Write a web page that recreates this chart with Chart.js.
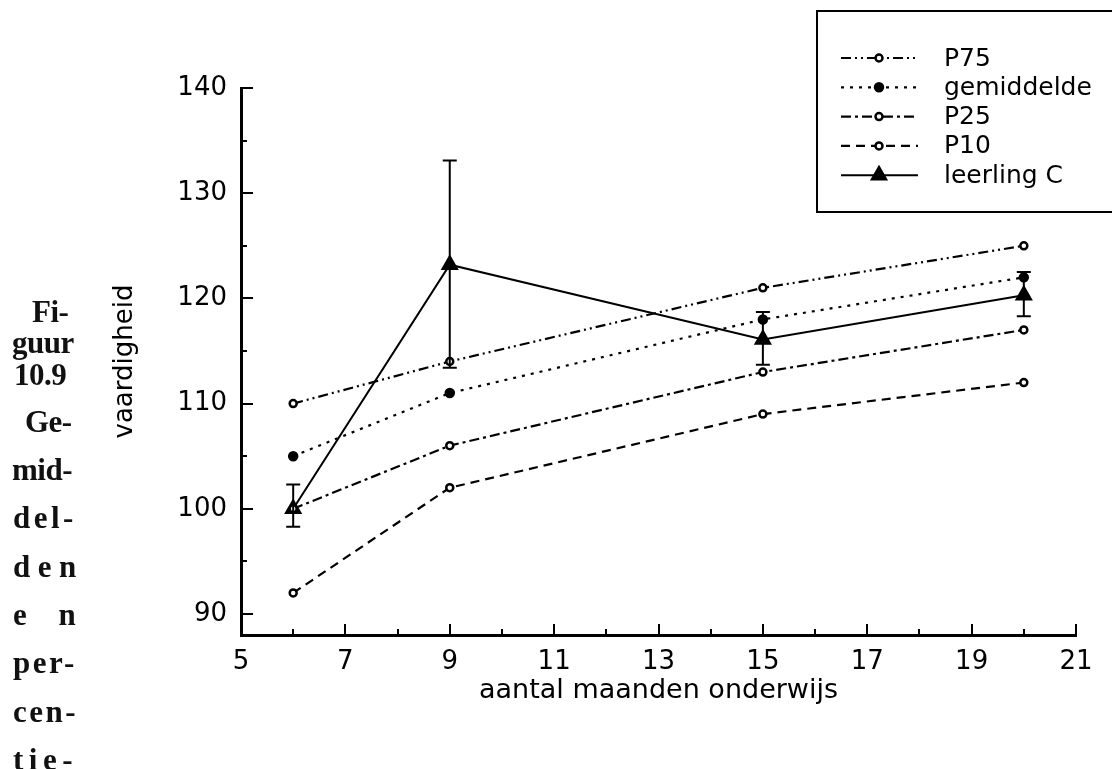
<!DOCTYPE html>
<html>
<head>
<meta charset="utf-8">
<script src="https://cdn.jsdelivr.net/npm/chart.js"></script>
<style>
  body { margin: 0; background: #fff; }
  #wrap { position: relative; width: 1112px; height: 769px; overflow: hidden; }
  #myChart { position: absolute; left: 0; top: 0; }
  .cap { position: absolute; left: 13px; font-family: "Liberation Serif", "Times New Roman", serif;
         font-weight: bold; font-size: 31px; line-height: 30px; color: #111; white-space: pre; letter-spacing: -0.5px; }
</style>
</head>
<body>
<div id="wrap">
  <canvas id="myChart" width="1112" height="769"></canvas>
  <div class="cap" style="top:297px;left:32px">Fi-</div>
  <div class="cap" style="top:328px;left:12px">guur</div>
  <div class="cap" style="top:360px;left:14px">10.9</div>
  <div class="cap" style="top:407px;left:25px">Ge-</div>
  <div class="cap" style="top:455px;left:12px">mid-</div>
  <div class="cap" style="top:503px;letter-spacing:3.5px">del-</div>
  <div class="cap" style="top:552px;letter-spacing:7.5px">den</div>
  <div class="cap" style="top:600px;word-spacing:24px;letter-spacing:0">e n</div>
  <div class="cap" style="top:648px;letter-spacing:2.5px">per-</div>
  <div class="cap" style="top:697px;letter-spacing:2.5px">cen-</div>
  <div class="cap" style="top:745px;letter-spacing:5.5px">tie-</div>
</div>
<script>
// data
var months = [6, 9, 15, 20];
var p75 = [110, 114, 121, 125];
var gemiddelde = [105, 111, 118, 122];
var p25 = [100, 106, 113, 117];
var p10 = [92, 102, 109, 112];
var leerlingC = [100, 123.2, 116.1, 120.3];
var leerlingLow = [98.3, 113.4, 113.7, 118.3];
var leerlingHigh = [102.3, 133.1, 118.7, 122.5];

var xTicks = [5, 7, 9, 11, 13, 15, 17, 19, 21];
var yTicks = [90, 100, 110, 120, 130, 140];

var axisFont = { family: 'DejaVu Sans', size: 26 };

function points(ys) {
    return months.map(function (m, i) { return { x: m, y: ys[i] }; });
}

function series(label, ys, dash, style, radius, fill, width) {
    return {
        label: label,
        data: points(ys),
        borderColor: '#000',
        borderWidth: width,
        borderDash: dash,
        tension: 0,
        pointStyle: style,
        pointRadius: radius,
        pointBorderWidth: 2.5,
        pointBorderColor: '#000',
        pointBackgroundColor: fill
    };
}

// ticks pointing into the plot, long on labelled values, short halfway
var inwardTicks = {
    id: 'inwardTicks',
    afterDraw: function (chart) {
        var ctx = chart.ctx, a = chart.chartArea;
        var xs = chart.scales.x, ys = chart.scales.y;
        ctx.save();
        ctx.strokeStyle = '#000';
        ctx.lineWidth = 2;
        ctx.beginPath();
        xTicks.forEach(function (v, i) {
            var px = Math.round(xs.getPixelForValue(v));
            ctx.moveTo(px, a.bottom); ctx.lineTo(px, a.bottom - 11);
            if (i < xTicks.length - 1) {
                var mx = Math.round(xs.getPixelForValue((v + xTicks[i + 1]) / 2));
                ctx.moveTo(mx, a.bottom); ctx.lineTo(mx, a.bottom - 6);
            }
        });
        yTicks.forEach(function (v, i) {
            var py = Math.round(ys.getPixelForValue(v));
            ctx.moveTo(a.left, py); ctx.lineTo(a.left + 12, py);
            if (i < yTicks.length - 1) {
                var my = Math.round(ys.getPixelForValue((v + yTicks[i + 1]) / 2));
                ctx.moveTo(a.left, my); ctx.lineTo(a.left + 6, my);
            }
        });
        ctx.stroke();
        ctx.restore();
    }
};

// error bars for leerling C
var errorBars = {
    id: 'errorBars',
    afterDatasetsDraw: function (chart) {
        var ctx = chart.ctx;
        var xs = chart.scales.x, ys = chart.scales.y;
        ctx.save();
        ctx.strokeStyle = '#000';
        ctx.lineWidth = 2;
        ctx.beginPath();
        for (var i = 0; i < months.length; i++) {
            var px = xs.getPixelForValue(months[i]);
            var lo = ys.getPixelForValue(leerlingLow[i]);
            var hi = ys.getPixelForValue(leerlingHigh[i]);
            ctx.moveTo(px, lo); ctx.lineTo(px, hi);
            ctx.moveTo(px - 7, lo); ctx.lineTo(px + 7, lo);
            ctx.moveTo(px - 7, hi); ctx.lineTo(px + 7, hi);
        }
        ctx.stroke();
        ctx.restore();
    }
};

// boxed legend, top right
var legendBox = {
    id: 'legendBox',
    afterDraw: function (chart) {
        var ctx = chart.ctx;
        ctx.save();
        ctx.strokeStyle = '#000';
        ctx.lineWidth = 2;
        ctx.strokeRect(817, 11, 400, 201);
        ctx.font = '25px "DejaVu Sans"';
        ctx.textBaseline = 'middle';
        ctx.fillStyle = '#000';
        chart.data.datasets.forEach(function (ds, i) {
            var y = 58 + i * 29.3;
            ctx.setLineDash(ds.borderDash);
            ctx.lineWidth = ds.borderWidth;
            ctx.beginPath();
            ctx.moveTo(841, y); ctx.lineTo(918, y);
            ctx.stroke();
            ctx.setLineDash([]);
            ctx.lineWidth = 2.5;
            ctx.beginPath();
            if (ds.pointStyle === 'triangle') {
                var r = ds.pointRadius;
                ctx.moveTo(879, y - r);
                ctx.lineTo(879 + r * 0.866, y + r / 2);
                ctx.lineTo(879 - r * 0.866, y + r / 2);
                ctx.closePath();
            } else {
                ctx.arc(879, y, ds.pointRadius, 0, Math.PI * 2);
            }
            ctx.fillStyle = ds.pointBackgroundColor;
            ctx.fill();
            ctx.stroke();
            ctx.fillStyle = '#000';
            ctx.fillText(ds.label, 944, y + 1);
        });
        ctx.restore();
    }
};

var ctx = document.getElementById('myChart').getContext('2d');
var myChart = new Chart(ctx, {
    type: 'line',
    data: {
        datasets: [
            series('P75', p75, [10, 4, 2, 4, 2, 4], 'circle', 3.5, '#fff', 2.2),
            series('gemiddelde', gemiddelde, [3, 6], 'circle', 4, '#000', 2.2),
            series('P25', p25, [10, 4, 3, 4], 'circle', 3.5, '#fff', 2.2),
            series('P10', p10, [9, 6], 'circle', 3.5, '#fff', 2.2),
            series('leerling C', leerlingC, [], 'triangle', 8, '#000', 2)
        ]
    },
    options: {
        responsive: false,
        animation: false,
        layout: { padding: { left: 110, top: 88, right: 36, bottom: 61 } },
        plugins: { legend: { display: false }, tooltip: { enabled: false } },
        scales: {
            x: {
                type: 'linear',
                min: 5,
                max: 21,
                afterBuildTicks: function (s) { s.ticks = xTicks.map(function (v) { return { value: v }; }); },
                afterFit: function (s) { s.height = 73; },
                grid: { display: false, drawTicks: false },
                border: { display: true, width: 3, color: '#000' },
                ticks: { padding: 12, font: axisFont, color: '#000', maxRotation: 0, autoSkip: false },
                title: { display: true, text: 'aantal maanden onderwijs', font: { family: 'DejaVu Sans', size: 27 }, color: '#000', padding: { top: 0, bottom: 1 } }
            },
            y: {
                min: 88,
                max: 140,
                afterBuildTicks: function (s) { s.ticks = yTicks.map(function (v) { return { value: v }; }); },
                afterFit: function (s) { s.width = 131; },
                grid: { display: false, drawTicks: false },
                border: { display: true, width: 3, color: '#000' },
                ticks: { padding: 14, font: axisFont, color: '#000', autoSkip: false },
                title: { display: true, text: 'vaardigheid', font: { family: 'DejaVu Sans', size: 26 }, color: '#000', padding: { top: 0, bottom: 0 } }
            }
        }
    },
    plugins: [inwardTicks, errorBars, legendBox]
});
</script>
</body>
</html>
